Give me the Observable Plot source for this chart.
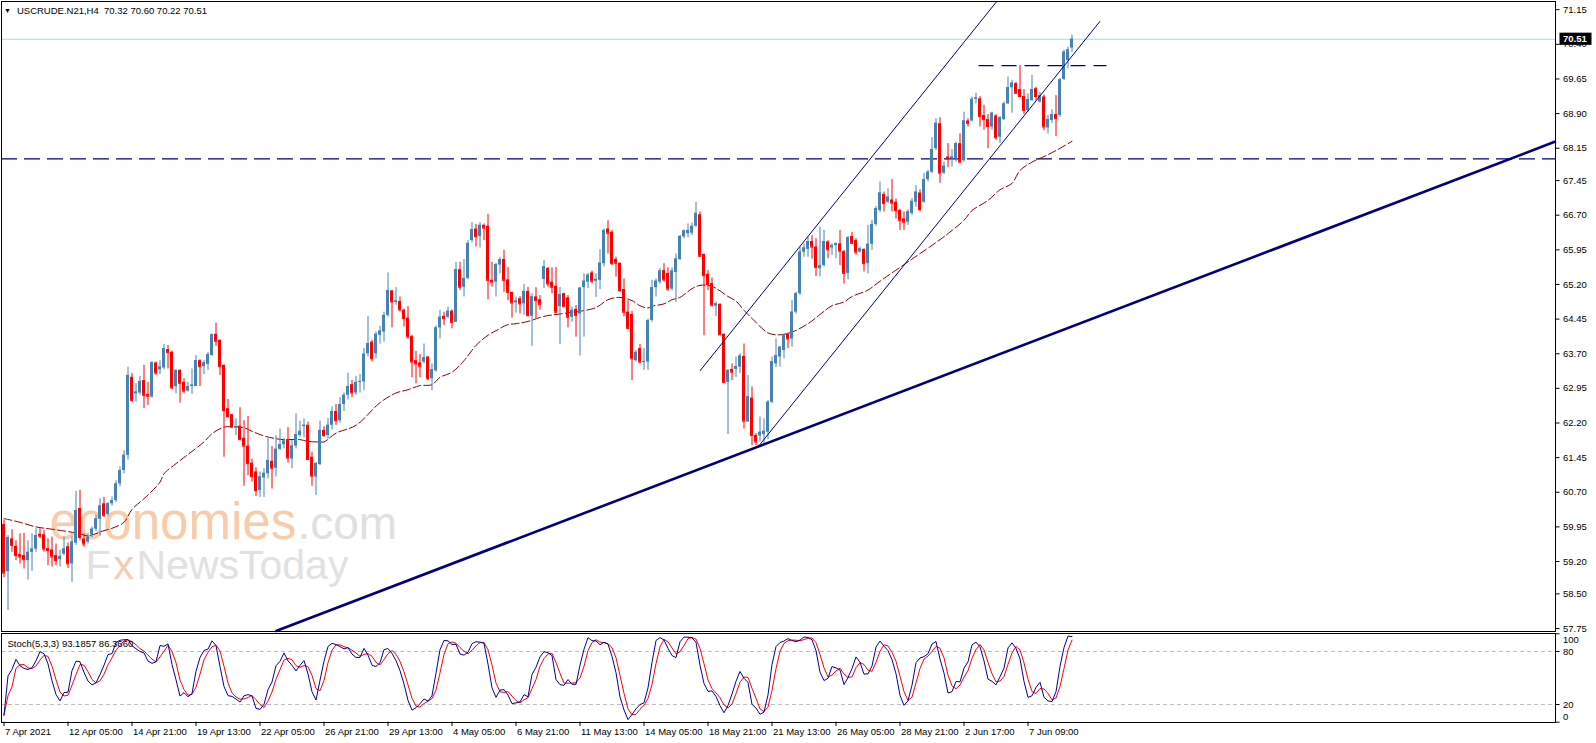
<!DOCTYPE html>
<html><head><meta charset="utf-8">
<script src="https://cdn.jsdelivr.net/npm/d3@7"></script>
<script src="https://cdn.jsdelivr.net/npm/@observablehq/plot@0.6"></script>
<style>
html,body{margin:0;padding:0;background:#fff;width:1596px;height:743px;overflow:hidden;font-family:"Liberation Sans",Arial,sans-serif;}
#wrap{position:relative;width:1596px;height:743px;overflow:hidden;}
#main{position:absolute;left:0;top:0;}
#stoch{position:absolute;left:0;top:632px;}
#hdr{position:absolute;left:4px;top:5px;font-size:9.5px;line-height:12px;color:#000;white-space:pre;}
#hdr .tri{font-size:7px;vertical-align:1px;margin-right:6px;}
svg{display:block;}
</style></head><body>
<div id="wrap"><div id="main"></div><div id="stoch"></div>
<div id="hdr"><span class="tri">▼</span>USCRUDE.N21,H4  70.32 70.60 70.22 70.51</div></div>
<script>
// ---- OHLC (H4 bars, index 0 = 7 Apr 2021) ----
const open = [
60.00,58.98,59.69,59.53,59.35,59.33,59.22,59.40,59.47,59.79,
59.78,59.48,59.45,59.33,59.24,59.36,59.52,59.15,59.60,60.35,
59.69,59.62,59.78,59.90,60.12,60.45,60.22,60.45,60.52,60.88,
61.17,61.50,63.19,62.83,62.85,63.12,62.82,62.76,63.50,63.35,
63.39,63.79,63.73,62.99,63.34,63.08,62.89,62.99,62.99,63.55,
63.42,63.47,63.66,64.12,63.99,63.45,62.51,62.38,62.09,62.13,
61.87,61.70,61.33,61.14,60.74,61.01,61.10,61.37,61.22,61.63,
61.73,61.84,61.42,61.70,61.93,62.12,62.15,61.46,61.03,61.30,
62.04,61.93,62.15,62.45,62.25,62.60,62.80,63.03,62.85,63.08,
63.09,63.70,63.95,63.70,64.10,64.17,64.53,65.06,64.81,64.83,
64.64,64.47,64.07,63.55,63.50,63.52,63.63,63.16,63.33,64.26,
64.51,64.49,64.62,64.38,65.52,65.14,65.33,66.15,66.40,66.24,
66.48,66.46,65.29,65.25,65.62,65.74,65.30,65.03,64.80,64.89,
64.78,65.05,64.51,64.93,64.87,65.31,65.55,65.25,65.16,64.72,
65.00,64.91,64.49,64.66,64.56,65.13,65.25,65.45,65.27,65.29,
65.65,66.40,66.33,65.74,65.66,65.09,64.60,64.55,63.55,63.81,
63.52,63.52,64.42,65.13,65.25,65.50,65.44,65.10,65.46,65.74,
66.23,66.30,66.31,66.46,66.71,65.85,65.42,65.22,64.73,64.77,
64.12,63.08,63.36,63.36,63.41,63.64,62.22,62.74,61.93,61.92,
61.95,62.00,62.65,63.48,63.63,63.77,64.13,64.02,64.60,65.00,
65.90,65.96,66.13,66.01,65.54,65.61,66.12,65.99,66.04,66.08,
65.91,65.44,66.24,66.15,65.90,65.96,65.65,66.07,66.50,66.80,
67.15,66.98,67.03,66.98,66.80,66.62,66.55,66.74,66.98,67.18,
66.98,67.47,67.63,68.14,68.68,67.61,67.96,67.93,67.92,68.25,
67.88,68.74,68.74,69.21,69.22,68.86,68.77,68.61,68.85,68.39,
68.77,69.11,69.46,69.55,69.42,69.27,68.97,69.18,69.44,69.15,
69.26,68.59,68.75,68.88,68.86,69.64,70.05,70.32];
const high = [
60.10,59.76,59.89,59.65,59.80,59.81,59.65,59.80,59.91,59.91,
59.87,59.69,59.73,59.58,59.44,59.73,59.60,59.75,60.72,60.74,
59.80,59.81,59.95,60.20,60.56,60.59,60.48,60.60,60.95,61.25,
61.60,63.41,63.27,63.05,63.21,63.45,63.08,63.53,63.52,63.55,
63.90,63.88,63.76,63.35,63.35,63.16,63.08,63.37,63.66,63.57,
63.55,63.73,64.13,64.36,64.00,63.45,62.71,62.38,62.29,62.53,
62.25,62.34,61.42,61.23,61.14,61.21,61.86,61.69,61.92,62.07,
61.86,62.10,61.82,62.40,62.24,62.29,62.22,61.57,61.35,62.24,
62.12,62.30,62.55,62.60,62.75,62.85,63.28,63.12,63.21,63.25,
63.81,64.51,63.99,64.17,64.29,64.60,65.45,65.07,65.13,64.93,
64.67,64.72,64.10,63.75,63.68,63.91,63.63,63.48,64.30,64.64,
64.60,64.71,64.65,65.68,65.68,65.74,66.15,66.54,66.50,66.54,
66.51,66.72,65.68,65.66,65.79,65.94,65.57,65.03,64.93,64.94,
65.20,65.14,65.00,65.13,64.96,65.72,65.56,65.56,65.57,65.14,
65.01,64.96,64.71,64.74,65.14,65.43,65.44,65.49,65.43,65.95,
66.40,66.58,66.37,65.79,65.66,65.32,64.85,64.62,63.77,63.90,
63.81,64.45,65.29,65.32,65.54,65.65,65.56,65.56,65.86,66.26,
66.38,66.51,66.53,66.98,66.77,65.86,65.50,65.34,64.82,64.78,
64.13,63.35,63.48,63.63,63.70,63.91,63.23,62.98,61.97,62.33,
62.29,62.69,63.63,64.02,63.86,64.13,64.15,64.85,65.03,66.01,
66.08,66.22,66.26,66.19,66.44,66.37,66.15,66.08,66.11,66.37,
65.94,66.24,66.33,66.19,66.01,65.97,66.48,66.59,66.89,67.42,
67.20,67.27,67.47,67.05,66.83,66.77,66.82,67.06,67.34,67.25,
67.60,67.67,68.38,68.79,68.81,67.85,68.25,68.12,68.28,68.46,
68.93,68.79,69.26,69.34,69.27,69.08,68.88,68.93,68.88,68.84,
69.15,69.69,69.62,69.58,69.94,69.42,69.33,69.73,69.47,69.36,
69.30,68.86,68.98,69.29,69.66,70.27,70.34,70.60];
const low = [
58.85,58.14,59.40,59.22,59.15,59.04,58.80,58.99,59.40,59.69,
59.40,59.11,59.08,59.11,59.08,59.33,59.05,58.75,59.55,59.65,
59.51,59.58,59.72,59.85,59.75,60.15,60.18,60.40,60.48,60.82,
61.10,61.40,62.65,62.65,62.80,62.51,62.58,62.74,63.23,63.25,
63.35,63.37,62.92,62.83,62.63,62.83,62.87,62.82,62.99,62.99,
63.25,63.34,63.65,63.86,63.23,61.46,62.31,62.09,61.93,61.84,
60.83,61.06,60.92,60.61,60.59,60.59,60.99,60.77,61.03,61.60,
61.64,61.33,61.21,61.64,61.89,61.88,61.39,60.83,60.63,61.28,
61.89,61.85,62.05,62.15,62.20,62.45,62.70,62.75,62.80,62.85,
62.90,63.63,63.52,63.59,63.91,63.95,64.49,64.26,64.75,64.60,
64.28,64.02,63.18,63.05,63.18,63.48,63.12,62.90,63.30,64.02,
64.31,64.46,64.24,64.38,65.07,64.93,65.30,66.10,66.01,65.99,
66.15,64.87,65.14,64.93,65.43,65.03,64.85,64.47,64.58,64.56,
64.53,64.49,63.86,64.46,64.64,65.11,65.14,65.00,64.56,63.90,
64.71,64.26,64.38,64.06,63.65,64.06,65.11,65.21,64.92,65.09,
65.58,65.86,65.61,65.36,65.03,64.50,64.22,63.12,63.52,63.48,
63.34,63.34,64.38,64.93,65.21,65.25,65.05,65.06,64.81,65.72,
66.19,66.21,66.26,66.44,65.79,64.09,65.07,64.71,64.51,64.10,
63.05,61.95,63.12,63.19,63.27,62.07,62.22,61.71,61.71,61.79,
61.75,61.84,62.62,63.40,63.41,63.59,63.81,63.84,64.56,64.96,
65.79,65.79,65.75,65.37,65.36,65.58,65.76,65.83,65.76,65.61,
65.21,65.30,66.06,65.83,65.88,65.47,65.43,65.94,66.46,66.76,
66.77,66.95,66.77,66.62,66.37,66.37,66.48,66.69,66.87,66.78,
66.96,67.42,67.60,68.10,67.39,67.58,67.73,67.74,67.85,67.82,
67.85,68.61,68.72,69.11,68.61,68.54,68.14,68.54,68.32,68.25,
68.75,69.10,68.91,69.31,69.26,68.88,68.93,69.17,69.18,69.13,
68.53,68.46,68.69,68.40,68.82,69.62,69.87,70.22];
const close = [
58.95,59.72,59.55,59.33,59.30,59.24,59.40,59.47,59.76,59.75,
59.47,59.44,59.30,59.22,59.31,59.47,59.15,59.62,60.30,59.72,
59.58,59.73,59.90,60.12,60.40,60.20,60.45,60.52,60.88,61.17,
61.50,63.23,62.69,62.87,63.10,62.80,62.78,63.51,63.28,63.41,
63.81,63.73,62.96,63.34,63.06,62.89,62.99,63.02,63.55,63.42,
63.50,63.68,64.11,63.97,63.42,62.47,62.34,62.11,62.12,61.84,
61.70,61.32,61.04,60.74,61.03,61.11,61.39,61.22,61.63,61.73,
61.81,61.44,61.70,61.95,62.02,62.15,61.41,61.05,61.32,62.04,
61.93,62.15,62.45,62.25,62.60,62.80,62.99,62.85,63.08,63.10,
63.69,63.92,63.59,64.12,64.19,64.53,65.07,64.82,64.84,64.65,
64.46,64.06,63.52,63.48,63.43,63.61,63.16,63.35,64.26,64.49,
64.46,64.62,64.38,65.52,65.14,65.33,66.09,66.39,66.24,66.48,
66.42,65.29,65.25,65.63,65.74,65.29,65.03,64.80,64.84,64.78,
65.05,64.53,64.93,64.85,64.77,65.58,65.21,65.14,64.60,64.98,
64.72,64.49,64.64,64.53,65.12,65.27,65.40,65.27,65.31,65.66,
66.37,66.31,65.65,65.66,65.07,64.60,64.25,63.59,63.73,63.52,
63.53,64.42,65.13,65.27,65.49,65.30,65.10,65.49,65.75,66.24,
66.36,66.37,66.46,66.74,65.81,65.39,65.20,64.75,64.78,64.11,
63.08,63.34,63.30,63.42,63.65,62.24,62.77,61.93,61.79,62.00,
62.02,62.65,63.53,63.66,63.84,64.11,64.02,64.60,65.00,65.90,
65.99,66.13,66.01,65.57,65.61,66.13,65.95,66.04,66.08,65.92,
65.44,66.21,66.09,65.90,65.97,65.65,66.07,66.50,66.84,67.18,
66.95,67.09,66.96,66.80,66.59,66.55,66.77,67.00,67.20,66.82,
67.47,67.63,68.12,68.69,67.61,67.76,67.92,67.96,68.25,67.85,
68.74,68.69,69.21,69.24,68.84,68.77,68.62,68.91,68.38,68.81,
69.11,69.46,69.56,69.34,69.27,68.97,69.20,69.42,69.27,69.29,
68.61,68.77,68.88,68.79,69.63,70.23,70.28,70.51];

// ---- moving average ----
const maIdx = [0,4,8,12,18,21,25,27,30,32,35,39,40,43,46,50,52,55,57,60,62,65,68,70,74,76,79,80,83,88,94,98,101,104,107,109,112,115,118,121,123,126,128,131,135,139,142,144,148,151,154,157,159,161,162,165,167,169,172,174,177,181,183,185,188,191,194,197,201,204,207,210,212,216,219,227,234,237,240,242,246,249,252,254,257,260,263,267];
const maVal = [60.13,60.05,59.95,59.90,59.82,59.76,59.87,59.92,60.05,60.33,60.56,60.92,61.10,61.32,61.52,61.79,61.97,62.11,62.12,62.10,62.02,61.92,61.86,61.84,61.84,61.80,61.79,61.79,61.98,62.15,62.64,62.85,62.92,63.01,63.03,63.19,63.30,63.55,63.88,64.10,64.20,64.33,64.35,64.40,64.51,64.56,64.60,64.62,64.70,64.87,64.92,64.85,64.74,64.69,64.73,64.78,64.87,64.92,65.11,65.18,65.16,64.94,64.84,64.64,64.38,64.15,64.11,64.17,64.35,64.55,64.74,64.82,64.94,65.08,65.27,65.75,66.17,66.37,66.59,66.80,67.02,67.25,67.39,67.67,67.85,67.97,68.10,68.30];

// ---- drawn objects: [bar, price, bar, price] ----
const supportTrend = [67.85, 57.69, 388, 68.30];
const channelUpper = [174, 63.33, 248.2, 71.33];
const channelLower = [188.75, 61.71, 274, 70.90];
const resistance = [69.94, 243.75, 275.75]; // price, from bar, to bar
const supportLevel = 67.92;
const bid = 70.51;

// ---- axes ----
const priceLabels = ["71.15","70.40","69.65","68.90","68.15","67.45","66.70","65.95","65.20","64.45","63.70","62.95","62.20","61.45","60.70","59.95","59.20","58.50","57.75"];
const timeLabels = ["7 Apr 2021","12 Apr 05:00","14 Apr 21:00","19 Apr 13:00","22 Apr 05:00","26 Apr 21:00","29 Apr 13:00","4 May 05:00","6 May 21:00","11 May 13:00","14 May 05:00","18 May 21:00","21 May 13:00","26 May 05:00","28 May 21:00","2 Jun 17:00","7 Jun 09:00"];
const timeLabelIdx = [0,16,32,48,64,80,96,112,128,144,160,176,192,208,224,240,256];
const stochLevels = [80, 20];

const UP = "#4682b4", DN = "#ff0000", NAVY = "#000080";
const FONT = "Liberation Sans, Arial, sans-serif";

const candles = close.map((c, i) => ({i, o: open[i], h: high[i], l: low[i], c, up: c >= open[i]}));
const maData = maIdx.map((x, k) => ({x, y: maVal[k]}));
const priceVals = priceLabels.map(Number);

const main = Plot.plot({
  width: 1596, height: 633,
  marginLeft: 1, marginRight: 41, marginTop: 1, marginBottom: 2,
  style: {background: "transparent", fontFamily: FONT, fontSize: "9.5px", overflow: "visible"},
  x: {domain: [0, 388], range: [3.5, 1555.5], axis: null},
  y: {domain: [57.75, 71.15], range: [628, 9.2], axis: null},
  marks: [
    // watermark
    Plot.text(["economies"], {frameAnchor: "top-left", dx: 48, dy: 537, lineAnchor: "bottom", textAnchor: "start", fontSize: 51, fill: "#f9cba8", fontFamily: FONT}),
    Plot.text([".com"], {frameAnchor: "top-left", dx: 296, dy: 537, lineAnchor: "bottom", textAnchor: "start", fontSize: 46, fill: "#e0e0e0", fontFamily: FONT}),
    Plot.text(["F"], {frameAnchor: "top-left", dx: 84, dy: 577, lineAnchor: "bottom", textAnchor: "start", fontSize: 41, fill: "#e1e1e1", fontFamily: FONT}),
    Plot.text(["x"], {frameAnchor: "top-left", dx: 112, dy: 577, lineAnchor: "bottom", textAnchor: "start", fontSize: 41, fill: "#f3cdb3", fontFamily: FONT}),
    Plot.text(["NewsToday"], {frameAnchor: "top-left", dx: 135, dy: 577, lineAnchor: "bottom", textAnchor: "start", fontSize: 41, fill: "#e1e1e1", fontFamily: FONT}),
    // bid line
    Plot.ruleY([bid], {stroke: "#a6dbe0", strokeWidth: 1}),
    // horizontal levels
    Plot.ruleY([supportLevel], {stroke: NAVY, strokeWidth: 1.2, strokeDasharray: "16,7"}),
    Plot.ruleY([resistance], {y: d => d[0], x1: d => d[1], x2: d => d[2], stroke: NAVY, strokeWidth: 1.2, strokeDasharray: "15,8"}),
    // moving average
    Plot.line(maData, {x: "x", y: "y", stroke: "#8b0000", strokeWidth: 1, strokeDasharray: "8,3", curve: "catmull-rom"}),
    // candles
    Plot.ruleX(candles, {x: "i", y1: "l", y2: "h", stroke: d => d.up ? UP : DN, strokeWidth: 1}),
    Plot.rect(candles, {x1: d => d.i - 0.375, x2: d => d.i + 0.375, y1: "o", y2: "c", fill: d => d.up ? UP : DN}),
    Plot.ruleY(candles, {y: "c", x1: d => d.i - 0.375, x2: d => d.i + 0.375, stroke: d => d.up ? UP : DN, strokeWidth: 1}),
    // trend lines
    Plot.link([supportTrend], {x1: d => d[0], y1: d => d[1], x2: d => d[2], y2: d => d[3], stroke: NAVY, strokeWidth: 2.6}),
    Plot.link([channelUpper, channelLower], {x1: d => d[0], y1: d => d[1], x2: d => d[2], y2: d => d[3], stroke: NAVY, strokeWidth: 1}),
    Plot.frame({stroke: "#000"}),
    // right price axis
    Plot.ruleY(priceVals, {x1: 388, x2: 389, stroke: "#000"}),
    Plot.text(priceVals, {x: 389, y: d => d, text: (d, k) => priceLabels[k], dx: 3, textAnchor: "start", fontSize: 9.5, fill: "#000", fontFamily: FONT}),
    Plot.rect([bid], {x1: 389, x2: 397, y1: d => d - 0.132, y2: d => d + 0.132, fill: "#000"}),
    Plot.text([bid], {x: 389, y: d => d, text: d => d.toFixed(2), dx: 3, textAnchor: "start", fontSize: 9.5, fontWeight: "bold", fill: "#fff", fontFamily: FONT})
  ]
});
document.getElementById("main").appendChild(main);

// ---- Stochastic(5,3,3) computed from the OHLC above ----
function stochastic(H, L, C, kp, slow, dp) {
  const n = C.length, hh = [], ll = [], K = [], D = [];
  for (let t = 0; t < n; t++) {
    const s = Math.max(0, t - kp + 1);
    hh[t] = d3.max(H.slice(s, t + 1));
    ll[t] = d3.min(L.slice(s, t + 1));
  }
  for (let t = 0; t < n; t++) {
    const s = Math.max(0, t - slow + 1);
    let num = 0, den = 0;
    for (let j = s; j <= t; j++) { num += C[j] - ll[j]; den += hh[j] - ll[j]; }
    K[t] = den > 0 ? 100 * num / den : 50;
  }
  for (let t = 0; t < n; t++) {
    const s = Math.max(0, t - dp + 1);
    D[t] = d3.mean(K.slice(s, t + 1));
  }
  return {K, D};
}
const st = stochastic(high, low, close, 5, 3, 3);
const kData = st.K.map((v, i) => ({i, v}));
const dData = st.D.map((v, i) => ({i, v}));

const stoch = Plot.plot({
  width: 1596, height: 112,
  marginLeft: 1, marginRight: 41, marginTop: 1, marginBottom: 22,
  style: {background: "transparent", fontFamily: FONT, fontSize: "9.5px", overflow: "visible"},
  x: {domain: [0, 388], range: [3.5, 1555.5], axis: null},
  y: {domain: [0, 100], range: [89.7, 1.3], axis: null},
  marks: [
    Plot.ruleY(stochLevels, {stroke: "#bdbdbd", strokeDasharray: "4,3"}),
    Plot.line(dData, {x: "i", y: "v", stroke: "#ff0000", strokeWidth: 1}),
    Plot.line(kData, {x: "i", y: "v", stroke: "#0000a0", strokeWidth: 1}),
    Plot.frame({stroke: "#000"}),
    Plot.text(["Stoch(5,3,3) 93.1857 86.3660"], {frameAnchor: "top-left", dx: 6, dy: 7, textAnchor: "start", fontSize: 9.5, fill: "#000", fontFamily: FONT}),
    // right axis
    Plot.ruleY([100, 80, 20, 0], {x1: 388, x2: 389, stroke: "#000"}),
    Plot.text([80, 20], {x: 389, y: d => d, text: d => String(d), dx: 3, textAnchor: "start", fontSize: 9.5, fill: "#000", fontFamily: FONT}),
    Plot.text([100], {x: 389, y: d => d, text: d => String(d), dx: 3, dy: 6.5, textAnchor: "start", fontSize: 9.5, fill: "#000", fontFamily: FONT}),
    Plot.text([0], {x: 389, y: d => d, text: d => String(d), dx: 3, dy: -5.5, textAnchor: "start", fontSize: 9.5, fill: "#000", fontFamily: FONT}),
    // time axis
    Plot.ruleX(timeLabelIdx, {x: d => d, y1: 0, y2: -5, stroke: "#000"}),
    Plot.text(timeLabelIdx, {x: d => d, frameAnchor: "bottom", dy: 12, dx: 1, text: (d, k) => timeLabels[k], textAnchor: "start", fontSize: 9.5, fill: "#000", fontFamily: FONT})
  ]
});
document.getElementById("stoch").appendChild(stoch);
</script>
</body></html>
